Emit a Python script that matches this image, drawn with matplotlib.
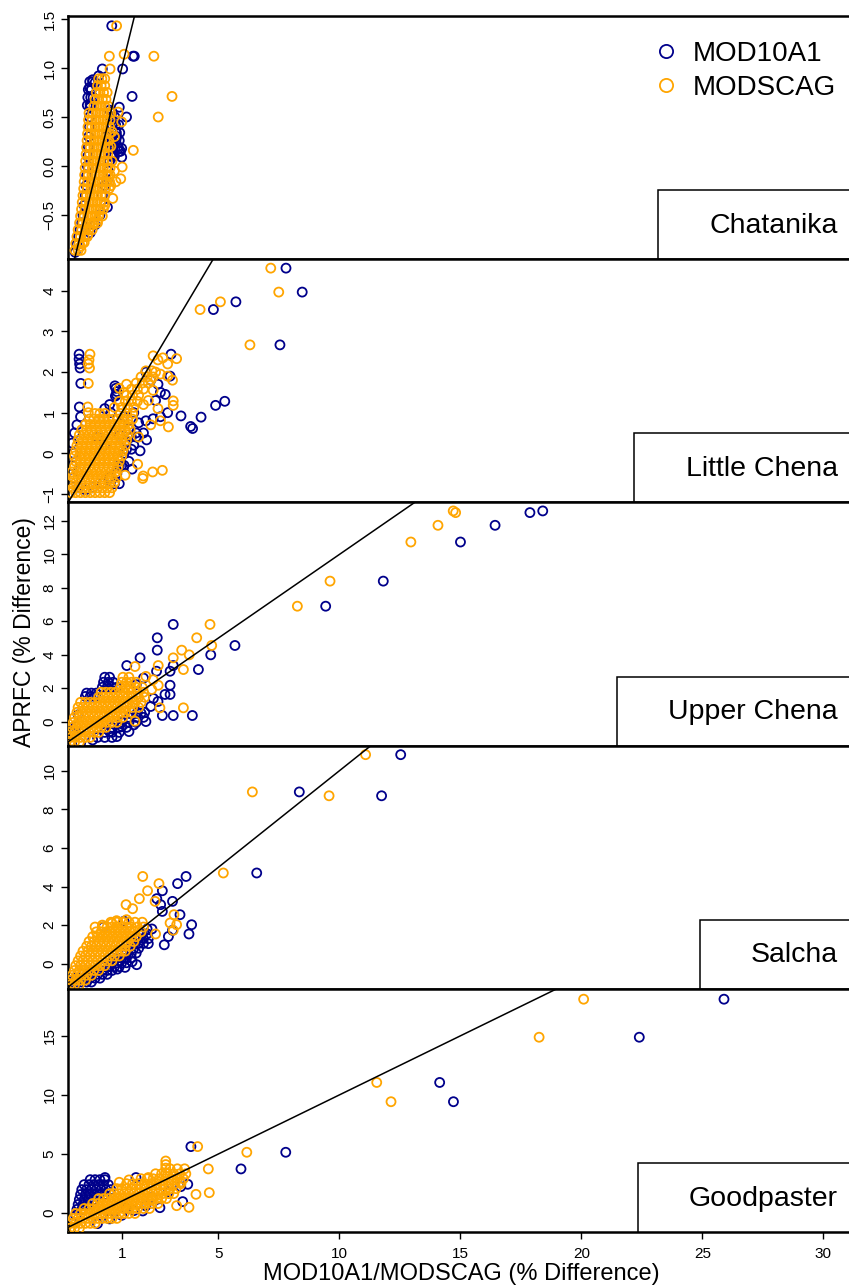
import matplotlib
matplotlib.use('Agg')
import matplotlib.pyplot as plt
from matplotlib.patches import Rectangle
from matplotlib.lines import Line2D

plt.rcParams['font.family'] = ['Liberation Sans', 'DejaVu Sans']

NAVY = '#00008B'
ORANGE = '#FFA500'

sites = ['Chatanika', 'Little Chena', 'Upper Chena', 'Salcha', 'Goodpaster']

# scattered / outlying points (x = MOD10A1/MODSCAG, y = APRFC)
# ---- Chatanika ----
chat_mod_x = [-0.92, -0.85, -0.78, -0.72, -0.65, -0.60, -0.55, -0.50, -0.47, -0.45, -0.42, -0.40,
              -0.38, -0.36, -0.34, -0.33, -0.30, -0.30, -0.33, -0.25, -0.20, -0.10, 0.20, 0.05,
              0.50, 0.55, 0.60, 0.70, 0.75, 0.80, 0.85, 0.90, 0.95, 0.55, 0.60, 0.50, 0.45, 0.40,
              0.30, 0.35, 0.65, 1.00, 0.20, 0.41, 0.10, -0.10, -0.30,
              0.59, 1.47, 1.52, 1.04, 1.43, 1.20, 0.90]
chat_mod_y = [-0.88, -0.80, -0.72, -0.65, -0.58, -0.50, -0.40, -0.30, -0.20, -0.10, 0.00, 0.10,
              0.20, 0.30, 0.40, 0.50, 0.60, 0.63, 0.80, 0.78, 0.88, 0.85, 0.99, 0.92,
              0.57, 0.50, 0.55, 0.45, 0.35, 0.30, 0.20, 0.15, 0.15, 0.25, 0.10, 0.05, -0.05, -0.15,
              -0.20, 0.30, 0.22, 0.09, -0.30, -0.42, -0.50, -0.60, -0.68,
              1.43, 1.12, 1.12, 0.99, 0.71, 0.50, 0.60]
chat_scag_x = [0.60, 0.70, 0.55, 0.60, 0.70, 0.45, 0.55, 0.76, 0.96, 1.02, 0.63, 0.30, 0.10,
               0.00, -0.20, -0.40, -0.55, -0.70,
               0.79, 0.49, 1.10, 2.33, 0.52, 3.08, 2.51, 1.48, 1.00, 0.85]
chat_scag_y = [0.35, 0.30, 0.20, 0.05, -0.05, -0.10, -0.20, -0.16, -0.13, -0.01, -0.33, -0.40, -0.45,
               -0.55, -0.60, -0.70, -0.78, -0.82,
               1.43, 1.12, 1.14, 1.12, 0.99, 0.71, 0.50, 0.16, 0.45, 0.55]
# dense cores, one row per APRFC level: (y, [x, ...])
chat_mod_rows = [(0.62, [-0.42, -0.30]), (0.70, [-0.40, -0.28, -0.18]), (0.78, [-0.38, -0.26]),
                 (0.86, [-0.32, -0.20]), (0.50, [0.58, 0.72]), (0.42, [0.60, 0.75, 0.88]),
                 (0.34, [0.62, 0.78, 0.92]), (0.26, [0.60, 0.76, 0.90]), (0.18, [0.58, 0.72, 0.86, 1.00]),
                 (0.10, [0.55, 0.70])]
chat_scag_rows = [(-0.86, [-0.93, -0.80, -0.68]), (-0.79, [-0.90, -0.76, -0.62]),
                  (-0.72, [-0.85, -0.70, -0.55, -0.42]), (-0.65, [-0.80, -0.65, -0.50, -0.36, -0.22]),
                  (-0.58, [-0.74, -0.60, -0.45, -0.30, -0.15, 0.00]),
                  (-0.51, [-0.70, -0.55, -0.40, -0.25, -0.10, 0.05, 0.20]),
                  (-0.44, [-0.66, -0.51, -0.36, -0.21, -0.06, 0.09, 0.24]),
                  (-0.37, [-0.63, -0.48, -0.33, -0.18, -0.03, 0.12, 0.27]),
                  (-0.30, [-0.60, -0.45, -0.30, -0.15, 0.00, 0.15, 0.30]),
                  (-0.23, [-0.57, -0.42, -0.27, -0.12, 0.03, 0.18, 0.33, 0.48]),
                  (-0.16, [-0.55, -0.40, -0.25, -0.10, 0.05, 0.20, 0.35, 0.50]),
                  (-0.09, [-0.53, -0.38, -0.23, -0.08, 0.07, 0.22, 0.37, 0.52]),
                  (-0.02, [-0.51, -0.36, -0.21, -0.06, 0.09, 0.24, 0.39, 0.52]),
                  (0.05, [-0.49, -0.34, -0.19, -0.04, 0.11, 0.26, 0.41]),
                  (0.12, [-0.47, -0.32, -0.17, -0.02, 0.13, 0.28, 0.43]),
                  (0.19, [-0.45, -0.30, -0.15, 0.00, 0.15, 0.30, 0.45]),
                  (0.26, [-0.43, -0.28, -0.13, 0.02, 0.17, 0.32, 0.47]),
                  (0.33, [-0.41, -0.26, -0.11, 0.04, 0.19, 0.34, 0.50]),
                  (0.40, [-0.39, -0.24, -0.09, 0.06, 0.21, 0.36, 0.50]),
                  (0.47, [-0.37, -0.22, -0.07, 0.08, 0.23, 0.38, 0.52]),
                  (0.54, [-0.35, -0.20, -0.05, 0.10, 0.25, 0.40, 0.55]),
                  (0.61, [-0.15, 0.00, 0.15, 0.30, 0.45]), (0.68, [-0.10, 0.05, 0.20, 0.35]),
                  (0.75, [-0.05, 0.10, 0.25, 0.40]), (0.82, [0.00, 0.15, 0.30]),
                  (0.89, [0.05, 0.18, 0.30])]

# ---- Little Chena ----
lc_mod_x = [7.79, 8.46, 5.72, 4.79, 7.54, 4.88, 5.26, 4.28, 3.93, 3.85, 3.45, 3.00, 3.04, 1.43, 2.03, 1.76,
            -0.76, -0.76, -0.74, -0.72, -0.69, -0.75,
            0.72, 0.76, 0.80, 0.78, 0.74, 0.50, 0.55, 0.30,
            2.00, 2.20, 2.50, 2.60, 2.40, 2.80, 2.90, 2.60, 2.30, 2.00, 1.70, 1.50, 1.30, 1.60, 1.90,
            1.20, 1.50, 1.10, 1.30, 1.00, 0.80, 0.50, 0.20, -0.20, -0.50, -0.80, -1.00, -1.05, -1.00,
            -1.05, -0.95, -0.85, -0.70, 0.90, 1.10, 0.00, 0.30]
lc_mod_y = [4.56, 3.97, 3.73, 3.54, 2.67, 1.18, 1.28, 0.89, 0.61, 0.66, 0.92, 1.90, 2.44, -0.39, 0.33, 0.06,
            2.44, 2.32, 2.20, 2.10, 1.72, 1.14,
            1.66, 1.60, 1.52, 1.45, 1.41, 1.20, 1.00, 1.10,
            2.00, 1.80, 1.70, 1.50, 1.30, 1.45, 1.00, 0.90, 0.85, 0.80, 0.75, 1.00, 0.60, 0.50, 0.50,
            0.30, 0.20, 0.00, -0.20, -0.30, -0.50, -0.60, -0.75, -0.85, -0.90, -0.85, -0.60, -0.30, 0.00,
            0.25, 0.50, 0.70, 0.90, 0.45, 0.90, 0.40, 0.20]
lc_scag_x = [7.16, 7.49, 5.08, 4.24, 6.30, 2.93, 3.13, 3.13, 3.27, 2.68, 2.28, 1.89, 1.87, 1.66, 1.14,
             -0.31, -0.35, -0.38, -0.33, -0.38, -0.40, -0.38,
             2.30, 2.50, 2.70, 2.90, 2.40, 2.60, 2.90, 3.10, 2.20, 2.30, 1.90, 2.10,
             2.20, 2.60, 2.50, 1.70, 1.10, 0.90, 1.20]
lc_scag_y = [4.56, 3.97, 3.73, 3.54, 2.67, 0.65, 1.29, 1.18, 2.33, -0.42, -0.46, -0.56, -0.62, -0.27, -0.54,
             2.44, 2.30, 2.20, 2.10, 1.72, 1.14, 1.00,
             2.40, 2.30, 2.35, 2.20, 2.00, 1.95, 1.90, 1.80, 1.80, 1.55, 1.20, 1.30,
             0.70, 0.80, 1.10, 0.40, 1.50, 1.60, 1.70]
lc_mod_rows = [(-0.30, [0.90, 1.10]), (0.10, [1.20, 1.40]), (0.40, [1.40, 1.60]), (-0.75, [0.70, 0.90])]
lc_scag_rows = [(-0.97, [-1.10, -0.90, -0.70, -0.50, -0.30, -0.10, 0.10, 0.30, 0.50]),
                (-0.85, [-1.00, -0.80, -0.60, -0.40, -0.20, 0.00, 0.20, 0.40, 0.60]),
                (-0.72, [-1.10, -0.90, -0.70, -0.50, -0.30, -0.10, 0.10, 0.30, 0.50, 0.70]),
                (-0.59, [-1.00, -0.80, -0.60, -0.40, -0.20, 0.00, 0.20, 0.40, 0.60, 0.80]),
                (-0.46, [-1.05, -0.85, -0.65, -0.45, -0.25, -0.05, 0.15, 0.35, 0.55, 0.75]),
                (-0.33, [-0.95, -0.75, -0.55, -0.35, -0.15, 0.05, 0.25, 0.45, 0.65, 0.85]),
                (-0.20, [-0.90, -0.70, -0.50, -0.30, -0.10, 0.10, 0.30, 0.50, 0.70, 0.90]),
                (-0.07, [-0.95, -0.75, -0.55, -0.35, -0.15, 0.05, 0.25, 0.45, 0.65, 0.85, 1.00]),
                (0.06, [-0.90, -0.70, -0.50, -0.30, -0.10, 0.10, 0.30, 0.50, 0.70, 0.90, 1.05]),
                (0.19, [-0.85, -0.65, -0.45, -0.25, -0.05, 0.15, 0.35, 0.55, 0.75, 0.95, 1.15]),
                (0.32, [-0.80, -0.60, -0.40, -0.20, 0.00, 0.20, 0.40, 0.60, 0.80, 1.00, 1.20]),
                (0.45, [-0.75, -0.55, -0.35, -0.15, 0.05, 0.25, 0.45, 0.65, 0.85, 1.05, 1.25]),
                (0.58, [-0.65, -0.45, -0.25, -0.05, 0.15, 0.35, 0.55, 0.75, 0.95, 1.15, 1.35]),
                (0.71, [-0.50, -0.30, -0.10, 0.10, 0.30, 0.50, 0.70, 0.90, 1.10, 1.30]),
                (0.84, [-0.35, -0.15, 0.05, 0.25, 0.45, 0.65, 0.85, 1.05, 1.25, 1.45]),
                (0.98, [-0.10, 0.10, 0.30, 0.95, 1.20, 1.45]),
                (1.13, [0.70, 1.00, 1.25, 1.50]), (1.28, [0.90, 1.15, 1.40, 1.65]),
                (1.43, [1.20, 1.45, 1.70]), (1.58, [1.40, 1.65, 1.90]), (1.73, [1.60, 1.85, 2.10]),
                (1.88, [1.80, 2.05, 2.30]), (2.03, [2.00, 2.25])]

# ---- Upper Chena ----
uc_mod_x = [11.81, 9.43, 17.87, 18.40, 16.43, 15.00, 3.13, 2.47, 2.47, 5.68, 4.68, 1.76, 1.21, 4.17,
            3.13, 3.00, 2.44, 3.13, 3.92, 2.68, 3.00, 2.79, 3.00, 2.31,
            0.50, 1.00, 1.50, 2.00, 1.80, 1.30, 0.80, -0.20, -0.70, 2.50, 2.20, -1.10, 1.60, 1.90,
            -0.90, -1.00, -0.80]
uc_mod_y = [8.40, 6.90, 12.50, 12.60, 11.74, 10.74, 5.81, 5.01, 4.27, 4.55, 3.99, 3.81, 3.35, 3.11,
            3.35, 3.01, 3.01, 0.36, 0.36, 0.36, 1.62, 1.62, 2.17, 1.38,
            -0.60, -0.30, -0.20, 0.00, 0.50, -0.60, -0.90, -1.10, -1.30, 1.20, 0.90, -1.20, 2.20, 2.60,
            -0.30, -0.70, 0.40]
uc_scag_x = [9.61, 8.26, 14.70, 14.80, 14.07, 12.95, 4.65, 4.10, 3.48, 4.72, 3.79, 3.13, 1.55, 3.55,
             2.51, 3.55, 2.51, 2.24, 2.58, 1.55, 2.00, 2.30]
uc_scag_y = [8.40, 6.90, 12.60, 12.50, 11.74, 10.74, 5.81, 5.01, 4.27, 4.55, 3.99, 3.81, 3.29, 3.11,
             3.35, 0.82, 2.17, 1.92, 0.82, 0.02, 2.70, 2.50]
uc_mod_rows = [(-0.95, [0.00, 0.30, 0.60]), (-0.65, [0.30, 0.60, 0.90]), (-0.35, [0.60, 0.90, 1.20]),
               (-0.05, [1.00, 1.30, 1.60]), (0.25, [1.30, 1.60, 1.90]), (0.55, [1.65, 1.95]),
               (2.05, [0.20, 0.40, 0.60, 0.80]), (2.35, [0.25, 0.45, 0.65]), (2.65, [0.30, 0.50]),
               (1.50, [-0.50, -0.30, -0.10]), (1.70, [-0.45, -0.25, -0.05])]
uc_scag_rows = [(-1.25, [-1.15, -0.95, -0.75]),
                (-0.95, [-1.10, -0.90, -0.70, -0.50, -0.30]),
                (-0.65, [-1.15, -0.95, -0.75, -0.55, -0.35, -0.15, 0.05]),
                (-0.35, [-1.05, -0.85, -0.65, -0.45, -0.25, -0.05, 0.15, 0.35]),
                (-0.05, [-1.00, -0.80, -0.60, -0.40, -0.20, 0.00, 0.20, 0.40, 0.60, 0.80]),
                (0.25, [-0.95, -0.75, -0.55, -0.35, -0.15, 0.05, 0.25, 0.45, 0.65, 0.85, 1.05]),
                (0.55, [-0.85, -0.65, -0.45, -0.25, -0.05, 0.15, 0.35, 0.55, 0.75, 0.95, 1.15, 1.40]),
                (0.85, [-0.80, -0.60, -0.40, -0.20, 0.00, 0.20, 0.40, 0.60, 0.80, 1.00, 1.20, 1.45, 1.70]),
                (1.15, [-0.70, -0.50, -0.30, -0.10, 0.10, 0.30, 0.50, 0.70, 0.90, 1.10, 1.30, 1.55, 1.80]),
                (1.45, [0.05, 0.25, 0.45, 0.65, 0.85, 1.05, 1.25, 1.45, 1.70, 1.95]),
                (1.75, [0.15, 0.35, 0.55, 0.75, 0.95, 1.15, 1.40, 1.65, 1.90]),
                (2.05, [0.95, 1.15, 1.35, 1.60, 1.85]), (2.35, [1.00, 1.20, 1.40, 1.60]),
                (2.65, [1.05, 1.30])]

# ---- Salcha ----
sal_mod_x = [12.53, 8.34, 11.74, 6.58, 3.66, 3.31, 2.68, 2.45, 2.61, 3.10, 2.68, 3.41, 3.89, 3.78,
             2.76, 2.10, 2.93, 3.10, 1.10, 0.24, 1.62, 1.14, 0.82, 1.43]
sal_mod_y = [10.83, 8.90, 8.70, 4.70, 4.52, 4.15, 3.78, 3.37, 3.06, 3.23, 2.71, 2.54, 2.02, 1.54,
             0.98, 1.04, 1.41, 1.73, 2.20, 1.90, -0.05, -0.19, -0.28, 0.10]
sal_scag_x = [11.08, 6.40, 9.57, 5.20, 1.87, 2.54, 2.07, 1.73, 1.18, 2.38, 1.45, 3.16, 3.00, 3.27,
              3.13, 2.40, 1.20, 0.79, 0.20, -0.10, 0.60]
sal_scag_y = [10.83, 8.90, 8.70, 4.70, 4.52, 4.15, 3.78, 3.37, 3.06, 3.23, 2.85, 2.54, 2.11, 2.02,
              1.73, 1.54, 2.28, 2.23, 2.00, 1.90, 2.10]
sal_mod_rows = [(-1.15, [-1.15, -0.95]), (-0.95, [-1.05, -0.85, -0.65, -0.45, -0.25]),
                (-0.75, [-0.90, -0.70, -0.50, -0.30, -0.10, 0.10]),
                (-0.55, [-0.60, -0.40, -0.20, 0.00, 0.20, 0.40]),
                (-0.35, [-0.20, 0.00, 0.20, 0.40, 0.60]), (-0.15, [0.30, 0.50, 0.70, 0.90]),
                (0.05, [0.60, 0.80, 1.00, 1.20]), (0.30, [0.80, 1.00, 1.20, 1.40]),
                (0.55, [1.00, 1.20, 1.40, 1.60]), (0.80, [1.30, 1.50, 1.70]),
                (1.05, [1.50, 1.70, 1.90]), (1.30, [1.70, 1.90, 2.10]), (1.55, [1.85, 2.05]),
                (1.80, [2.05, 2.25])]
sal_scag_rows = [(-1.10, [-1.15, -0.95, -0.75]), (-0.85, [-1.10, -0.90, -0.70, -0.50]),
                 (-0.60, [-1.05, -0.85, -0.65, -0.45, -0.25]),
                 (-0.35, [-0.95, -0.75, -0.55, -0.35, -0.15, 0.05]),
                 (-0.10, [-0.90, -0.70, -0.50, -0.30, -0.10, 0.10, 0.30]),
                 (0.15, [-0.80, -0.60, -0.40, -0.20, 0.00, 0.20, 0.40, 0.60]),
                 (0.40, [-0.70, -0.50, -0.30, -0.10, 0.10, 0.30, 0.50, 0.70, 0.90]),
                 (0.65, [-0.60, -0.40, -0.20, 0.00, 0.20, 0.40, 0.60, 0.80, 1.00, 1.15]),
                 (0.90, [-0.45, -0.25, -0.05, 0.15, 0.35, 0.55, 0.75, 0.95, 1.15, 1.35]),
                 (1.15, [-0.35, -0.15, 0.05, 0.25, 0.45, 0.65, 0.85, 1.05, 1.25, 1.50]),
                 (1.40, [-0.20, 0.00, 0.20, 0.40, 0.60, 0.80, 1.00, 1.20, 1.40, 1.60]),
                 (1.65, [-0.05, 0.15, 0.35, 0.55, 0.75, 0.95, 1.15, 1.35, 1.55, 1.80]),
                 (1.90, [0.20, 0.40, 0.60, 0.80, 1.00, 1.20, 1.40, 1.65, 1.90]),
                 (2.15, [0.55, 0.80, 1.05, 1.30, 1.55, 1.85])]

# ---- Goodpaster ----
gp_mod_x = [25.89, 22.39, 14.14, 14.71, 3.86, 7.78, 5.93, 3.73, 3.52, 3.44, 2.93, 2.58, 1.87, 2.24, 1.59,
            0.31, -0.90, -1.00, 0.00, 0.50, 1.00, 1.50, 2.00, 1.20]
gp_mod_y = [18.10, 14.88, 11.05, 9.42, 5.62, 5.14, 3.73, 2.43, 0.96, 2.23, 1.80, 0.45, 0.17, 1.30, 3.00,
            3.00, -0.20, -0.80, -0.90, -0.50, -0.20, 0.20, 0.60, 0.40]
gp_scag_x = [20.09, 18.25, 11.54, 12.13, 4.14, 6.17, 4.58, 4.07, 4.62, 3.78, 3.27, 3.41, 2.24, 2.10, 1.30, 0.90,
             2.82, 2.82, 2.82, 2.82]
gp_scag_y = [18.10, 14.88, 11.05, 9.42, 5.62, 5.14, 3.73, 1.58, 1.72, 0.48, 0.62, 2.60, 1.10, 3.00, 2.80, 2.60,
             3.40, 3.80, 4.10, 4.40]
gp_mod_rows = [(0.30, [-0.85, -0.65]), (0.72, [-0.80, -0.60, -0.40]),
               (1.14, [-0.75, -0.55, -0.35, -0.15]), (1.56, [-0.70, -0.50, -0.30, -0.10, 0.10, 0.30]),
               (1.98, [-0.65, -0.45, -0.25, -0.05, 0.15, 0.35, 0.55]),
               (2.40, [-0.55, -0.35, -0.15, 0.05, 0.25, 0.45]), (2.82, [-0.30, -0.10, 0.10, 0.30])]
gp_scag_rows = [(-1.30, [-1.15, -0.95, -0.75]),
                (-0.88, [-1.10, -0.90, -0.70, -0.50, -0.30, -0.10]),
                (-0.46, [-1.00, -0.80, -0.60, -0.40, -0.20, 0.00, 0.20, 0.40, 0.60, 0.80]),
                (-0.04, [-0.90, -0.70, -0.50, -0.30, -0.10, 0.10, 0.30, 0.50, 0.70, 0.90, 1.10, 1.30, 1.55]),
                (0.38, [-0.55, -0.35, -0.15, 0.05, 0.25, 0.45, 0.65, 0.85, 1.05, 1.25, 1.45, 1.65, 1.90, 2.15]),
                (0.80, [-0.20, 0.00, 0.20, 0.40, 0.60, 0.80, 1.00, 1.20, 1.40, 1.60, 1.80, 2.00, 2.25, 2.50]),
                (1.22, [0.05, 0.25, 0.45, 0.65, 0.85, 1.05, 1.25, 1.45, 1.65, 1.85, 2.05, 2.25, 2.45, 2.65, 2.85]),
                (1.64, [0.50, 0.70, 0.90, 1.10, 1.30, 1.50, 1.70, 1.90, 2.10, 2.30, 2.50, 2.70, 2.95, 3.15]),
                (2.06, [0.80, 1.00, 1.20, 1.40, 1.60, 1.80, 2.00, 2.20, 2.40, 2.60, 2.80, 3.00, 3.25]),
                (2.48, [1.20, 1.45, 1.70, 1.95, 2.20, 2.45, 2.70, 2.95, 3.20, 3.45]),
                (2.90, [1.80, 2.05, 2.30, 2.55, 2.80, 3.05, 3.30, 3.55]),
                (3.32, [2.40, 2.65, 2.90, 3.15, 3.40, 3.65]), (3.74, [3.00, 3.30, 3.60])]


def with_rows(xs, ys, rows):
    # scattered points followed by the dense-core rows
    out_x, out_y = list(xs), list(ys)
    for yv, row in rows:
        out_x.extend(row)
        out_y.extend([yv] * len(row))
    return out_x, out_y


panels = [
    (with_rows(chat_mod_x, chat_mod_y, chat_mod_rows), with_rows(chat_scag_x, chat_scag_y, chat_scag_rows)),
    (with_rows(lc_mod_x, lc_mod_y, lc_mod_rows), with_rows(lc_scag_x, lc_scag_y, lc_scag_rows)),
    (with_rows(uc_mod_x, uc_mod_y, uc_mod_rows), with_rows(uc_scag_x, uc_scag_y, uc_scag_rows)),
    (with_rows(sal_mod_x, sal_mod_y, sal_mod_rows), with_rows(sal_scag_x, sal_scag_y, sal_scag_rows)),
    (with_rows(gp_mod_x, gp_mod_y, gp_mod_rows), with_rows(gp_scag_x, gp_scag_y, gp_scag_rows)),
]

y_limits = [(-0.95, 1.53), (-1.21, 4.78), (-1.44, 13.11), (-1.30, 11.30), (-1.61, 18.98)]
y_ticks = [[-0.5, 0.0, 0.5, 1.0, 1.5], [-1, 0, 1, 2, 3, 4], [0, 2, 4, 6, 8, 10, 12],
           [0, 2, 4, 6, 8, 10], [0, 5, 10, 15]]
y_ticklabels = [['\u22120.5', '0.0', '0.5', '1.0', '1.5'], ['\u22121', '0', '1', '2', '3', '4'],
                ['0', '2', '4', '6', '8', '10', '12'], ['0', '2', '4', '6', '8', '10'],
                ['0', '5', '10', '15']]
x_ticks = [1, 5, 10, 15, 20, 25, 30]
x_limits = (-1.231, 31.18)

# label box left edge in axes fraction
box_left = [0.7527, 0.7221, 0.7004, 0.8062, 0.7272]

W, H = 849, 1287
fig = plt.figure(figsize=(W / 100, H / 100), dpi=100)

left_px, right_px = 67.7, 852.0
top_px, panel_h = 16.0, 243.2

axes = []
for i in range(5):
    bottom = 1 - (top_px + panel_h * (i + 1)) / H
    ax = fig.add_axes([left_px / W, bottom, (right_px - left_px) / W, panel_h / H])
    axes.append(ax)

    (mx, my), (sx, sy) = panels[i]
    ax.scatter(mx, my, s=42, facecolors='none', edgecolors=NAVY, linewidths=1.3, zorder=2)
    ax.scatter(sx, sy, s=42, facecolors='none', edgecolors=ORANGE, linewidths=1.3, zorder=3)
    ax.axline((0, 0), slope=1, color='black', lw=1.1, zorder=4)

    ax.set_xlim(*x_limits)
    ax.set_ylim(*y_limits[i])
    ax.set_yticks(y_ticks[i])
    ax.set_yticklabels(y_ticklabels[i], rotation=90, va='center', fontsize=11)
    ax.tick_params(axis='y', direction='out', length=5, width=1, pad=3)

    if i < 4:
        ax.tick_params(axis='x', bottom=False, labelbottom=False)
    else:
        ax.set_xticks(x_ticks)
        ax.set_xticklabels([str(t) for t in x_ticks], fontsize=11)
        ax.tick_params(axis='x', direction='out', length=5, width=1, pad=6)

    for side in ['left', 'top', 'bottom', 'right']:
        ax.spines[side].set_linewidth(1.8)

    # site label box
    rect = Rectangle((box_left[i], 0), 1.1, 0.284, transform=ax.transAxes,
                     facecolor='white', edgecolor='black', lw=1.1, zorder=5, clip_on=False)
    ax.add_patch(rect)
    ax.text(0.982, 0.137, sites[i], transform=ax.transAxes, ha='right', va='center',
            fontsize=20.5, zorder=6)

handles = [Line2D([], [], ls='none', marker='o', markersize=9.5, markerfacecolor='none',
                  markeredgecolor=NAVY, markeredgewidth=1.3, label='MOD10A1'),
           Line2D([], [], ls='none', marker='o', markersize=9.5, markerfacecolor='none',
                  markeredgecolor=ORANGE, markeredgewidth=1.3, label='MODSCAG')]
axes[0].legend(handles=handles, loc='upper left', bbox_to_anchor=(0.749, 0.898), frameon=False,
               fontsize=20, handlelength=0.8, handletextpad=0.55, labelspacing=0.3,
               borderaxespad=0, borderpad=0)

fig.text(25 / W, 1 - 632 / H, 'APRFC (% Difference)', rotation=90, ha='center', va='center', fontsize=16.5)
fig.text(461 / W, 1 - 1274 / H, 'MOD10A1/MODSCAG (% Difference)', ha='center', va='center', fontsize=17)

fig.savefig('out.png', dpi=100)
